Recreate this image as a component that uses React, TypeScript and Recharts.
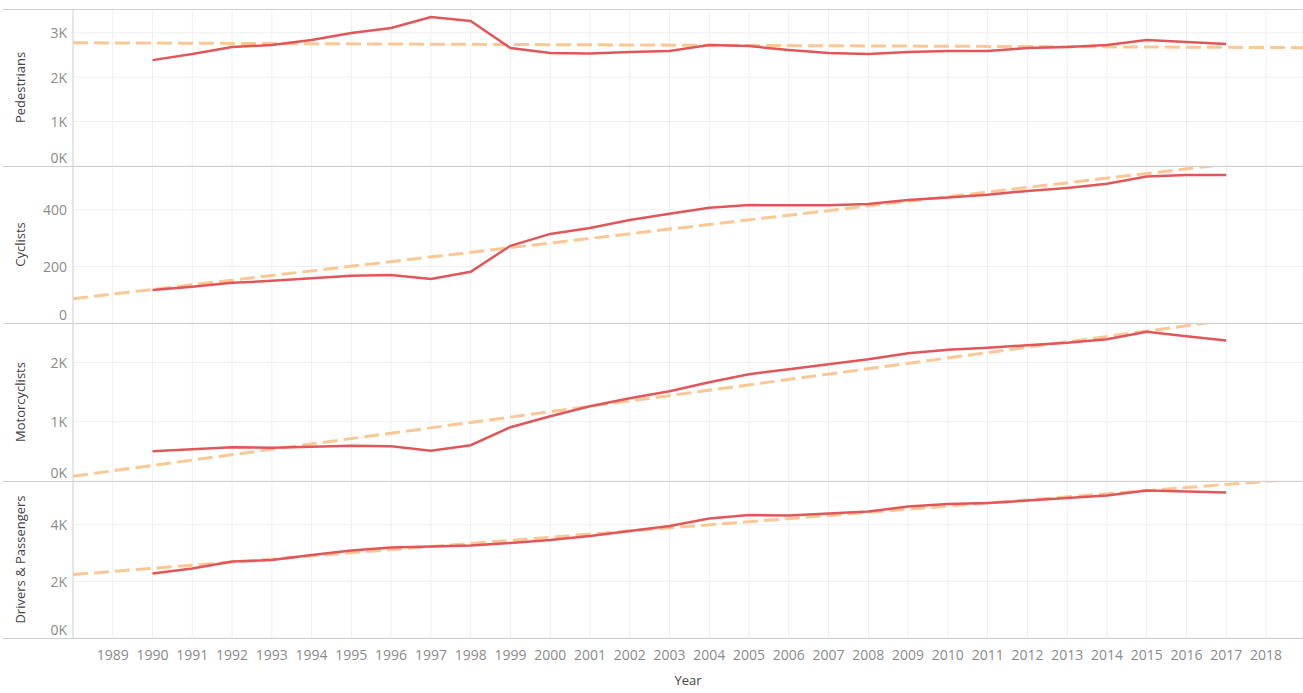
import React from "react";
import { LineChart, Line, XAxis, YAxis, CartesianGrid } from "recharts";

const years = [1990, 1991, 1992, 1993, 1994, 1995, 1996, 1997, 1998, 1999, 2000, 2001, 2002, 2003, 2004, 2005, 2006, 2007, 2008, 2009, 2010, 2011, 2012, 2013, 2014, 2015, 2016, 2017];
const pedestrians = [2384, 2520, 2678, 2723, 2836, 2993, 3106, 3354, 3264, 2655, 2542, 2531, 2565, 2587, 2723, 2700, 2610, 2542, 2520, 2565, 2587, 2587, 2655, 2678, 2723, 2836, 2790, 2745];
const cyclists = [117, 128, 142, 149, 158, 167, 170, 156, 181, 273, 315, 336, 364, 386, 407, 417, 416, 416, 421, 435, 444, 453, 467, 477, 492, 518, 523, 523];
const motorcyclists = [503, 536, 570, 562, 578, 595, 587, 511, 604, 907, 1093, 1261, 1396, 1514, 1666, 1801, 1885, 1970, 2054, 2155, 2214, 2248, 2290, 2332, 2391, 2516, 2442, 2368];
const driversPassengers = [2275, 2452, 2698, 2751, 2928, 3086, 3192, 3228, 3263, 3351, 3457, 3598, 3774, 3951, 4215, 4339, 4321, 4392, 4462, 4638, 4727, 4762, 4850, 4938, 5026, 5203, 5168, 5132];

const trendYears = [1988, 2019];
const pedestriansTrend = [2775, 2665];
const cyclistsTrend = [86, 594];
const motorcyclistsTrend = [81, 2890];
const driversPassengersTrend = [2240, 5638];

const yearTicks = [1989, 1990, 1991, 1992, 1993, 1994, 1995, 1996, 1997, 1998, 1999, 2000, 2001, 2002, 2003, 2004, 2005, 2006, 2007, 2008, 2009, 2010, 2011, 2012, 2013, 2014, 2015, 2016, 2017, 2018];

const pedestriansTicks = [0, 1000, 2000, 3000];
const cyclistsTicks = [0, 200, 400];
const motorcyclistsTicks = [0, 1000, 2000];
const driversPassengersTicks = [0, 2000, 4000];

const FONT = "'Open Sans', sans-serif";
const LINE_COLOR = "#e15759";
const TREND_COLOR = "#fbc794";
const GRID_COLOR = "#efefef";
const TICK_COLOR = "#8b8b8b";
const TITLE_COLOR = "#444";
const CHART_W = 1303;
const AXIS_W = 73;
const X_DOMAIN: [number, number] = [1988, 2018.93];

const kFmt = (v: number) => `${v / 1000}K`;
const plainFmt = (v: number) => `${v}`;

function makeRows(values: number[]) {
  return years.map((y, i) => ({ year: y, v: values[i] }));
}
function makeTrend(values: number[]) {
  return trendYears.map((y, i) => ({ year: y, v: values[i] }));
}

const panels = [
  { title: "Pedestrians", values: pedestrians, trend: pedestriansTrend, ticks: pedestriansTicks, max: 3535, fmt: kFmt, top: 9, h: 157 },
  { title: "Cyclists", values: cyclists, trend: cyclistsTrend, ticks: cyclistsTicks, max: 555, fmt: plainFmt, top: 166, h: 157 },
  { title: "Motorcyclists", values: motorcyclists, trend: motorcyclistsTrend, ticks: motorcyclistsTicks, max: 2664, fmt: kFmt, top: 323, h: 158 },
  { title: "Drivers & Passengers", values: driversPassengers, trend: driversPassengersTrend, ticks: driversPassengersTicks, max: 5540, fmt: kFmt, top: 481, h: 157 },
];

const separators = [9, 166, 323, 481, 638];

function YTick(props: any) {
  const { x, y, payload, fmt } = props;
  const isZero = payload.value === 0;
  return (
    <text x={x} y={isZero ? y - 9 : y} textAnchor="end" dominantBaseline="central" fill={TICK_COLOR} fontSize={14} fontFamily={FONT}>
      {fmt(payload.value)}
    </text>
  );
}

export default function App() {
  return (
    <div style={{ position: "absolute", left: 0, top: 0, width: 1303, height: 693, overflow: "hidden", background: "#fff" }}>
      {panels.map((p, idx) => {
        const isLast = idx === panels.length - 1;
        const xh = isLast ? 55 : 0;
        return (
          <div key={p.title} style={{ position: "absolute", left: 0, top: p.top }}>
            <LineChart width={CHART_W} height={p.h + xh} margin={{ top: 0, right: 0, bottom: 0, left: 0 }}>
              <CartesianGrid stroke={GRID_COLOR} strokeWidth={1} />
              <XAxis
                dataKey="year"
                type="number"
                domain={X_DOMAIN}
                allowDataOverflow
                ticks={yearTicks}
                interval={0}
                hide={!isLast}
                height={xh || 1}
                axisLine={false}
                tickLine={false}
                tickSize={0}
                tickMargin={12}
                tick={{ fill: TICK_COLOR, fontSize: 14, fontFamily: FONT }}
                label={
                  isLast
                    ? {
                        content: (lp: any) => {
                          const vb = lp.viewBox || {};
                          const cx = (vb.x || 0) + (vb.width || 0) / 2;
                          return (
                            <text x={cx} y={(vb.y || 0) + 42} textAnchor="middle" dominantBaseline="central" fill={TITLE_COLOR} fontSize={13} fontFamily={FONT}>
                              Year
                            </text>
                          );
                        },
                      }
                    : undefined
                }
              />
              <YAxis
                type="number"
                domain={[0, p.max]}
                allowDataOverflow
                ticks={p.ticks}
                interval={0}
                width={AXIS_W}
                axisLine={{ stroke: "#d6d6d6" }}
                tickLine={false}
                tickSize={0}
                tickMargin={6}
                tick={<YTick fmt={p.fmt} />}
                label={{
                  content: (lp: any) => {
                    const vb = lp.viewBox || {};
                    const cy = (vb.y || 0) + (vb.height || 0) / 2;
                    return (
                      <text x={20} y={cy} transform={`rotate(-90, 20, ${cy})`} textAnchor="middle" dominantBaseline="central" fill={TITLE_COLOR} fontSize={13} fontFamily={FONT}>
                        {p.title}
                      </text>
                    );
                  },
                }}
              />
              <Line data={makeTrend(p.trend)} dataKey="v" stroke={TREND_COLOR} strokeWidth={3} strokeDasharray="15 6" dot={false} activeDot={false} isAnimationActive={false} />
              <Line data={makeRows(p.values)} dataKey="v" stroke={LINE_COLOR} strokeWidth={2.5} dot={false} activeDot={false} isAnimationActive={false} />
            </LineChart>
          </div>
        );
      })}
      {separators.map((y) => (
        <div key={y} style={{ position: "absolute", left: 3, top: y, width: 1300, height: 1, background: "#d0d0d0" }} />
      ))}
    </div>
  );
}
